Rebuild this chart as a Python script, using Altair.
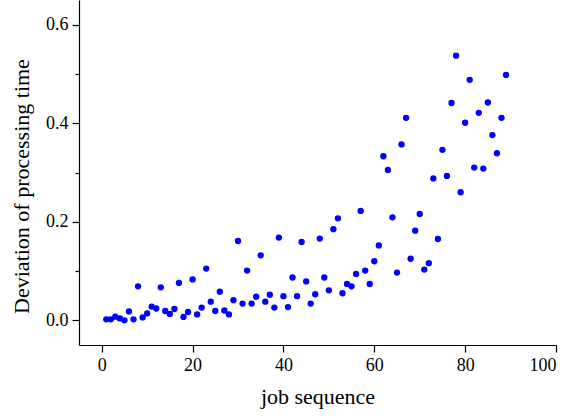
import altair as alt
import pandas as pd

jobs = list(range(1, 90))
deviation = [
    0.002, 0.002, 0.0075, 0.004, 0.000, 0.018, 0.002, 0.069, 0.006, 0.014,
    0.028, 0.024, 0.067, 0.019, 0.013, 0.023, 0.076, 0.007, 0.017, 0.083,
    0.012, 0.026, 0.105, 0.038, 0.019, 0.058, 0.020, 0.012, 0.041, 0.161,
    0.034, 0.101, 0.034, 0.048, 0.132, 0.038, 0.052, 0.026, 0.168, 0.049,
    0.027, 0.087, 0.049, 0.159, 0.079, 0.034, 0.053, 0.166, 0.087, 0.061,
    0.185, 0.207, 0.055, 0.074, 0.069, 0.094, 0.222, 0.101, 0.074, 0.120,
    0.152, 0.333, 0.305, 0.209, 0.097, 0.357, 0.411, 0.125, 0.182, 0.216,
    0.103, 0.116, 0.288, 0.165, 0.346, 0.293, 0.441, 0.537, 0.260, 0.401,
    0.488, 0.310, 0.421, 0.308, 0.442, 0.376, 0.339, 0.411, 0.498,
]
x_ticks = [0, 20, 40, 60, 80, 100]
y_ticks = [0.0, 0.1, 0.2, 0.3, 0.4, 0.5, 0.6]

df = pd.DataFrame({"job": jobs, "dev": deviation})

FONT = "Liberation Serif"

chart = (
    alt.Chart(df)
    .mark_circle(color="#0000FF", opacity=1, size=40)
    .encode(
        x=alt.X(
            "job:Q",
            scale=alt.Scale(domain=[-5, 100], nice=False, zero=False),
            axis=alt.Axis(
                title="job sequence",
                values=x_ticks,
                format="d",
                grid=False,
                tickSize=7,
                labelPadding=4,
                titlePadding=12,
                labelFont=FONT,
                labelFontSize=18,
                titleFont=FONT,
                titleFontSize=22,
            ),
        ),
        y=alt.Y(
            "dev:Q",
            scale=alt.Scale(domain=[-0.05, 0.65], nice=False, zero=False),
            axis=alt.Axis(
                title="Deviation of processing time",
                values=y_ticks,
                grid=False,
                labelExpr="round(datum.value*10) % 2 == 0 ? format(datum.value, '.1f') : ''",
                tickSize={"condition": {"test": "round(datum.value*10) % 2 == 1", "value": 4}, "value": 7},
                labelPadding=4,
                titlePadding=12,
                titleY=186,
                labelFont=FONT,
                labelFontSize=18,
                titleFont=FONT,
                titleFontSize=22,
            ),
        ),
    )
    .properties(
        width=477,
        height=345,
        autosize=alt.AutoSizeParams(type="none"),
        padding={"left": 79, "top": 0, "right": 17, "bottom": 74},
    )
    .configure_view(stroke=None)
    .configure_axis(
        domainColor="black",
        tickColor="black",
        domainWidth=1.2,
        tickWidth=1.2,
        titleFontWeight="normal",
        labelColor="black",
        titleColor="black",
    )
)

chart.save("out.html", embed_options={"renderer": "svg", "actions": False})
